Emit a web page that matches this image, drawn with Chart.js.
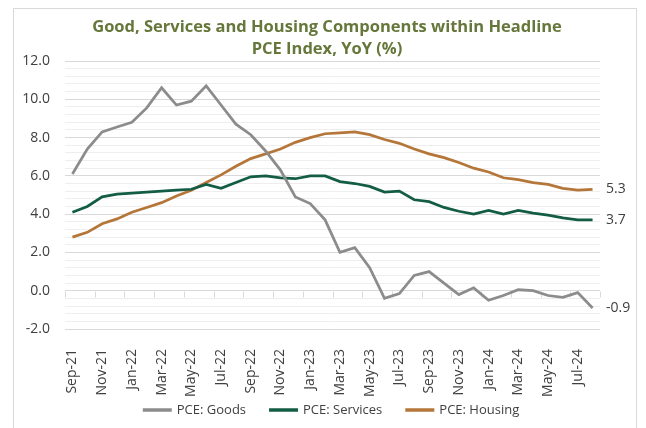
<!DOCTYPE html>
<html>
<head>
<meta charset="utf-8">
<script src="https://cdn.jsdelivr.net/npm/chart.js@4"></script>
<style>
  html, body { margin: 0; padding: 0; background: #fff; }
  #wrap { position: relative; width: 646px; height: 428px; overflow: hidden; }
  #frame { position: absolute; left: 13px; top: 8px; width: 624px; height: 440px; border: 1px solid #d9d9d9; box-sizing: border-box; }
  canvas { position: absolute; left: 0; top: 0; }
</style>
</head>
<body>
<div id="wrap">
  <div id="frame"></div>
  <canvas id="chart" width="646" height="428"></canvas>
</div>
<script>
// monthly, Sep-21 .. Aug-24
const months = [
  'Sep-21','Oct-21','Nov-21','Dec-21','Jan-22','Feb-22','Mar-22','Apr-22','May-22','Jun-22','Jul-22','Aug-22',
  'Sep-22','Oct-22','Nov-22','Dec-22','Jan-23','Feb-23','Mar-23','Apr-23','May-23','Jun-23','Jul-23','Aug-23',
  'Sep-23','Oct-23','Nov-23','Dec-23','Jan-24','Feb-24','Mar-24','Apr-24','May-24','Jun-24','Jul-24','Aug-24'
];
const goods = [
  6.1, 7.4, 8.3, 8.55, 8.8, 9.55, 10.6, 9.7, 9.9, 10.7, 9.7, 8.7,
  8.15, 7.3, 6.3, 4.9, 4.55, 3.7, 2.0, 2.25, 1.2, -0.4, -0.15, 0.8,
  1.0, 0.4, -0.2, 0.15, -0.5, -0.25, 0.05, 0.0, -0.25, -0.35, -0.1, -0.9
];
const services = [
  4.1, 4.4, 4.9, 5.05, 5.1, 5.15, 5.2, 5.25, 5.3, 5.55, 5.35, 5.65,
  5.95, 6.0, 5.9, 5.85, 6.0, 6.0, 5.7, 5.6, 5.45, 5.15, 5.2, 4.75,
  4.65, 4.35, 4.15, 4.0, 4.2, 4.0, 4.2, 4.05, 3.95, 3.8, 3.7, 3.7
];
const housing = [
  2.8, 3.05, 3.5, 3.75, 4.1, 4.35, 4.6, 4.95, 5.25, 5.65, 6.05, 6.5,
  6.9, 7.15, 7.4, 7.75, 8.0, 8.2, 8.25, 8.3, 8.15, 7.9, 7.7, 7.4,
  7.15, 6.95, 6.7, 6.4, 6.2, 5.9, 5.8, 5.65, 5.55, 5.35, 5.25, 5.3
];
const yMin = -2.0, yMax = 12.0, yMajor = 2.0, yMinor = 0.4;
const titleLines = ['Good, Services and Housing Components within Headline', 'PCE Index, YoY (%)'];

const FONT = "'Open Sans', 'Noto Sans', sans-serif";
const TEXT = '#404040';
const isMajor = v => Math.abs(v / yMajor - Math.round(v / yMajor)) < 1e-6;

// two-line title above the plot
const titlePlugin = {
  id: 'titleLines',
  afterDraw(chart) {
    const { ctx } = chart;
    ctx.save();
    ctx.font = 'bold 16.5px ' + FONT;
    ctx.fillStyle = '#65773a';
    ctx.textAlign = 'center';
    ctx.textBaseline = 'middle';
    titleLines.forEach((t, i) => ctx.fillText(t, 327, 27 + i * 22));
    ctx.restore();
  }
};

// line-sample legend under the axis labels
const lineLegend = {
  id: 'lineLegend',
  afterDraw(chart) {
    const { ctx } = chart;
    const sample = 29, gap = 5, spacing = 23, cx = 331, cy = 410;
    ctx.save();
    ctx.font = '13px ' + FONT;
    const items = chart.data.datasets.map(ds => ({ ds, w: ctx.measureText(ds.label).width }));
    const total = items.reduce((s, it) => s + sample + gap + it.w, 0) + spacing * (items.length - 1);
    let x = cx - total / 2;
    ctx.textBaseline = 'middle';
    ctx.textAlign = 'left';
    items.forEach(({ ds, w }) => {
      ctx.strokeStyle = ds.borderColor;
      ctx.lineWidth = 3.5;
      ctx.beginPath();
      ctx.moveTo(x, cy);
      ctx.lineTo(x + sample, cy);
      ctx.stroke();
      ctx.fillStyle = TEXT;
      ctx.fillText(ds.label, x + sample + gap, cy);
      x += sample + gap + w + spacing;
    });
    ctx.restore();
  }
};

// small tick marks hanging off the zero line, every other month
const zeroTicks = {
  id: 'zeroTicks',
  beforeDatasetsDraw(chart) {
    const { ctx, scales: { x, y } } = chart;
    const y0 = Math.round(y.getPixelForValue(0)) + 0.5;
    const half = (x.getPixelForValue(1) - x.getPixelForValue(0)) / 2;
    ctx.save();
    ctx.strokeStyle = '#d9d9d9';
    ctx.lineWidth = 1;
    ctx.beginPath();
    for (let i = 0; i <= months.length; i += 2) {
      const px = Math.round(x.getPixelForValue(i) - half) + 0.5;
      ctx.moveTo(px, y0);
      ctx.lineTo(px, y0 + 6);
    }
    ctx.stroke();
    ctx.restore();
  }
};

// latest value printed to the right of each line
const endLabels = {
  id: 'endLabels',
  afterDatasetsDraw(chart) {
    const { ctx, chartArea, scales: { y } } = chart;
    ctx.save();
    ctx.font = '14px ' + FONT;
    ctx.fillStyle = TEXT;
    ctx.textAlign = 'left';
    ctx.textBaseline = 'middle';
    chart.data.datasets.forEach(ds => {
      const last = ds.data[ds.data.length - 1];
      ctx.fillText(last.toFixed(1), chartArea.right + 6, y.getPixelForValue(last));
    });
    ctx.restore();
  }
};

const line = (label, data, color) => ({
  label, data,
  borderColor: color,
  backgroundColor: color,
  borderWidth: 2.75,
  pointRadius: 0,
  tension: 0
});

new Chart(document.getElementById('chart'), {
  type: 'line',
  data: {
    labels: months,
    datasets: [
      line('PCE: Goods', goods, '#8c8c8c'),
      line('PCE: Services', services, '#135c45'),
      line('PCE: Housing', housing, '#b5763a')
    ]
  },
  options: {
    responsive: false,
    animation: false,
    layout: { padding: { top: 61, left: 13, right: 46, bottom: 27 } },
    plugins: {
      title: { display: false },
      tooltip: { enabled: false },
      legend: { display: false }
    },
    scales: {
      x: {
        offset: true,
        grid: { display: false, drawTicks: false },
        border: { display: false },
        ticks: {
          autoSkip: false,
          minRotation: 90,
          maxRotation: 90,
          padding: 20,
          font: { family: FONT, size: 14 },
          color: TEXT,
          callback: (v, i) => (i % 2 === 0 ? months[i] : '')
        },
        afterFit: s => { s.height = 72; }
      },
      y: {
        min: yMin,
        max: yMax,
        grid: {
          drawTicks: false,
          lineWidth: 1,
          color: c => (c.tick && isMajor(c.tick.value) ? '#d9d9d9' : '#eeeeee')
        },
        border: { display: false },
        ticks: {
          stepSize: yMinor,
          autoSkip: false,
          padding: 15,
          font: { family: FONT, size: 14 },
          color: TEXT,
          callback: v => (isMajor(v) ? v.toFixed(1) : '')
        },
        afterFit: s => { s.width = 52; }
      }
    }
  },
  plugins: [titlePlugin, zeroTicks, endLabels, lineLegend]
});
</script>
</body>
</html>
